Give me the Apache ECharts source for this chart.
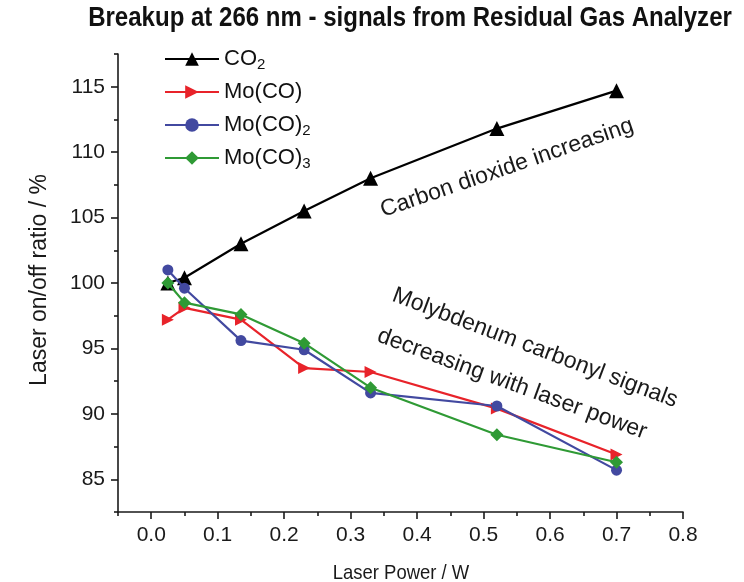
<!DOCTYPE html>
<html>
<head>
<meta charset="utf-8">
<script src="https://cdn.jsdelivr.net/npm/echarts@6/dist/echarts.min.js"></script>
<style>
  html, body { margin: 0; padding: 0; background: #fff; }
  #chart { width: 744px; height: 582px; }
</style>
</head>
<body>
<div id="chart"></div>
<script>
// Laser power (W) at which each ratio was measured
const laserPower = [0.025, 0.05, 0.135, 0.23, 0.33, 0.52, 0.70];

// Laser on/off ratio (%) per species
const co2Ratio    = [100.0, 100.4, 103.0, 105.5, 108.0, 111.8, 114.7];
const moCoRatio   = [97.2, 98.1, 97.2, 93.5, 93.2, 90.4, 86.9];
const moCo2Ratio  = [101.0, 99.6, 95.6, 94.9, 91.6, 90.6, 85.7];
const moCo3Ratio  = [100.0, 98.5, 97.6, 95.4, 92.0, 88.4, 86.3];

// Axis ticks
const xMajorTicks = [0.0, 0.1, 0.2, 0.3, 0.4, 0.5, 0.6, 0.7, 0.8];
const xMinorTicks = [-0.05, 0.05, 0.15, 0.25, 0.35, 0.45, 0.55, 0.65, 0.75];
const yMajorTicks = [85, 90, 95, 100, 105, 110, 115];
const yMinorTicks = [82.5, 87.5, 92.5, 97.5, 102.5, 107.5, 112.5, 117.5];

const seriesNames = ['CO2', 'Mo(CO)', 'Mo(CO)2', 'Mo(CO)3'];

const FONT = '"Liberation Sans", Arial, sans-serif';
const AXIS_COLOR = '#1a1a1a';

const pairs = vals => laserPower.map((x, i) => [x, vals[i]]);

function xAxisBase(extra) {
  return Object.assign({
    type: 'value', min: -0.05, max: 0.8, position: 'bottom',
    splitLine: { show: false }
  }, extra);
}
function yAxisBase(extra) {
  return Object.assign({
    type: 'value', min: 82.5, max: 117.5, position: 'left',
    splitLine: { show: false }
  }, extra);
}

const chart = echarts.init(document.getElementById('chart'), null, { renderer: 'canvas' });

chart.setOption({
  backgroundColor: '#ffffff',
  animation: false,
  grid: { left: 118, right: 61, top: 54, bottom: 70, containLabel: false },
  xAxis: [
    xAxisBase({
      axisLine: { show: true, onZero: false, lineStyle: { color: AXIS_COLOR, width: 1.6 } },
      axisTick: { show: true, customValues: xMajorTicks, length: 7, lineStyle: { color: AXIS_COLOR, width: 1.6 } },
      axisLabel: {
        show: true, customValues: xMajorTicks, margin: 13,
        formatter: v => v.toFixed(1),
        fontFamily: FONT, fontSize: 21, color: '#1a1a1a'
      }
    }),
    xAxisBase({
      axisLine: { show: false, onZero: false },
      axisTick: { show: true, customValues: xMinorTicks, length: 4, lineStyle: { color: AXIS_COLOR, width: 1.6 } },
      axisLabel: { show: false }
    })
  ],
  yAxis: [
    yAxisBase({
      axisLine: { show: true, onZero: false, lineStyle: { color: AXIS_COLOR, width: 1.6 } },
      axisTick: { show: true, customValues: yMajorTicks, length: 7, lineStyle: { color: AXIS_COLOR, width: 1.6 } },
      axisLabel: {
        show: true, customValues: yMajorTicks, margin: 13,
        fontFamily: FONT, fontSize: 21, color: '#1a1a1a'
      }
    }),
    yAxisBase({
      axisLine: { show: false, onZero: false },
      axisTick: { show: true, customValues: yMinorTicks, length: 4, lineStyle: { color: AXIS_COLOR, width: 1.6 } },
      axisLabel: { show: false }
    })
  ],
  legend: {
    orient: 'vertical',
    left: 164, top: 46, padding: 0,
    itemWidth: 54, itemHeight: 17, itemGap: 7,
    data: seriesNames,
    formatter: name => {
      const m = name.match(/^(.*?)(\d)$/);
      return m ? m[1] + '{sub|' + m[2] + '}' : name;
    },
    textStyle: {
      fontFamily: FONT, fontSize: 22, color: '#111', lineHeight: 26,
      rich: {
        sub: { fontFamily: FONT, fontSize: 15, lineHeight: 26, verticalAlign: 'bottom', color: '#111' }
      }
    }
  },
  series: [
    {
      name: 'CO2', type: 'line', data: pairs(co2Ratio),
      symbol: 'triangle', symbolSize: 15,
      lineStyle: { color: '#000000', width: 2.2 },
      itemStyle: { color: '#000000' }, z: 2
    },
    {
      name: 'Mo(CO)', type: 'line', data: pairs(moCoRatio),
      symbol: 'triangle', symbolRotate: -90, symbolSize: 12,
      lineStyle: { color: '#e8232a', width: 2.2 },
      itemStyle: { color: '#e8232a' }, z: 3
    },
    {
      name: 'Mo(CO)2', type: 'line', data: pairs(moCo2Ratio),
      symbol: 'circle', symbolSize: 11,
      lineStyle: { color: '#4249a0', width: 2.2 },
      itemStyle: { color: '#4249a0' }, z: 4
    },
    {
      name: 'Mo(CO)3', type: 'line', data: pairs(moCo3Ratio),
      symbol: 'diamond', symbolSize: 13,
      lineStyle: { color: '#2f9a35', width: 2.2 },
      itemStyle: { color: '#2f9a35' }, z: 5
    }
  ],
  graphic: [
    {
      type: 'text', x: 410, y: 19, scaleX: 0.89,
      style: {
        text: 'Breakup at 266 nm - signals from Residual Gas Analyzer',
        fontFamily: FONT, fontSize: 27, fontWeight: 'bold', fill: '#111',
        align: 'center', verticalAlign: 'middle'
      }
    },
    {
      type: 'text', x: 401, y: 573, scaleX: 0.88,
      style: {
        text: 'Laser Power / W', fontFamily: FONT, fontSize: 21, fill: '#1a1a1a',
        align: 'center', verticalAlign: 'middle'
      }
    },
    {
      type: 'text', x: 40, y: 280, rotation: Math.PI / 2,
      style: {
        text: 'Laser on/off ratio / %', fontFamily: FONT, fontSize: 23, fill: '#1a1a1a',
        align: 'center', verticalAlign: 'middle'
      }
    },
    {
      type: 'text', x: 507, y: 168, rotation: 0.33,
      style: {
        text: 'Carbon dioxide increasing', fontFamily: FONT, fontSize: 23, fill: '#1a1a1a',
        align: 'center', verticalAlign: 'middle'
      }
    },
    {
      type: 'text', x: 535, y: 348, rotation: -0.36,
      style: {
        text: 'Molybdenum carbonyl signals', fontFamily: FONT, fontSize: 23, fill: '#1a1a1a',
        align: 'center', verticalAlign: 'middle'
      }
    },
    {
      type: 'text', x: 512, y: 384, rotation: -0.35,
      style: {
        text: 'decreasing with laser power', fontFamily: FONT, fontSize: 23, fill: '#1a1a1a',
        align: 'center', verticalAlign: 'middle'
      }
    }
  ]
});
</script>
</body>
</html>
